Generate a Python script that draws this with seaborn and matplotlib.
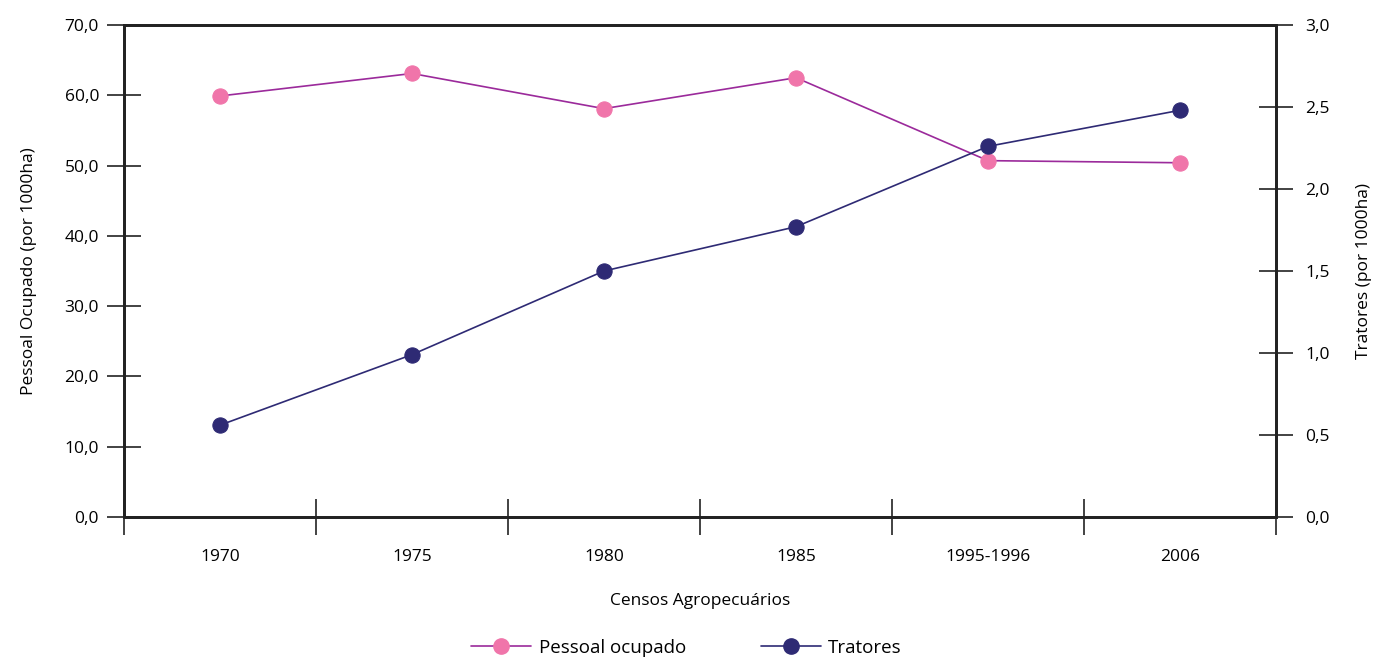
import pandas as pd
import numpy as np
import matplotlib
matplotlib.use("Agg")
import matplotlib.pyplot as plt
import seaborn as sns
from matplotlib.lines import Line2D
from matplotlib.ticker import FuncFormatter, FixedLocator

# --- DATA ---
censos = ['1970', '1975', '1980', '1985', '1995-1996', '2006']
pessoal_ocupado = [59.9, 63.1, 58.1, 62.5, 50.7, 50.4]
tratores = [0.56, 0.99, 1.50, 1.77, 2.26, 2.48]

PINK = '#F075AA'
PURPLE = '#9B2A9B'
NAVY = '#2E2A74'

sns.set_theme(style="white")
plt.rcParams['font.family'] = ['Open Sans', 'DejaVu Sans']
plt.rcParams.update({
    'font.size': 12.5,
    'text.color': 'black',
    'axes.labelcolor': 'black',
    'xtick.color': '#222222',
    'ytick.color': '#222222',
    'xtick.labelcolor': 'black',
    'ytick.labelcolor': 'black',
    'axes.edgecolor': '#222222',
    'axes.linewidth': 2.0,
})

df = pd.DataFrame({'pos': np.arange(len(censos)),
                   'censo': censos,
                   'pessoal': pessoal_ocupado,
                   'tratores': tratores})

fig = plt.figure(figsize=(13.73, 6.57), dpi=100)
ax = fig.add_axes([124 / 1373, 1 - 517 / 657, (1276 - 124) / 1373, (517 - 25) / 657])
ax2 = ax.twinx()

sns.lineplot(data=df, x='pos', y='pessoal', ax=ax, color=PURPLE, lw=1.2,
             marker='o', markersize=11, markerfacecolor=PINK, markeredgecolor=PINK)
sns.lineplot(data=df, x='pos', y='tratores', ax=ax2, color=NAVY, lw=1.2,
             marker='o', markersize=11, markerfacecolor=NAVY, markeredgecolor=NAVY)

ax.set_xlim(-0.5, len(censos) - 0.5)
ax.set_ylim(0, 70)
ax2.set_ylim(0, 3.0)

comma = lambda v, p: f"{v:.1f}".replace('.', ',')
ax.yaxis.set_major_locator(FixedLocator(np.arange(0, 71, 10)))
ax.yaxis.set_major_formatter(FuncFormatter(comma))
ax2.yaxis.set_major_locator(FixedLocator(np.arange(0, 3.01, 0.5)))
ax2.yaxis.set_major_formatter(FuncFormatter(comma))

ax.set_xticks(df['pos'])
ax.set_xticklabels(censos)
ax.set_xticks(np.arange(-0.5, len(censos), 1.0), minor=True)
ax.tick_params(axis='x', which='major', length=0, pad=23, labelsize=12.5)
ax.tick_params(axis='x', which='minor', direction='inout', length=26, width=1.2,
               bottom=True)
ax.tick_params(axis='y', direction='inout', length=24, width=1.2,
               left=True, pad=6, labelsize=12.5)
ax2.tick_params(axis='y', direction='inout', length=24, width=1.2,
                right=True, pad=9, labelsize=12.5)

for a in (ax, ax2):
    for s in a.spines.values():
        s.set_visible(True)
        s.set_color('#222222')
        s.set_linewidth(2.0)
ax.grid(False)
ax2.grid(False)

ax.set_xlabel('Censos Agropecuários', labelpad=20, fontsize=12.5)
ax.set_ylabel('Pessoal Ocupado (por 1000ha)', fontsize=12.5, labelpad=20)
ax2.set_ylabel('Tratores (por 1000ha)', fontsize=12.5, labelpad=19)

handles = [
    Line2D([0], [0], color=PURPLE, lw=1.2, marker='o', markersize=11,
           markerfacecolor=PINK, markeredgecolor=PINK, label='Pessoal ocupado'),
    Line2D([0], [0], color=NAVY, lw=1.2, marker='o', markersize=11,
           markerfacecolor=NAVY, markeredgecolor=NAVY, label='Tratores'),
]
fig.legend(handles=handles, loc='center', bbox_to_anchor=(0.5, 1 - 648 / 657),
           ncol=2, frameon=False, fontsize=13.5, handlelength=3.2,
           columnspacing=4.0, handletextpad=0.4)

fig.savefig('out.png', dpi=100)
